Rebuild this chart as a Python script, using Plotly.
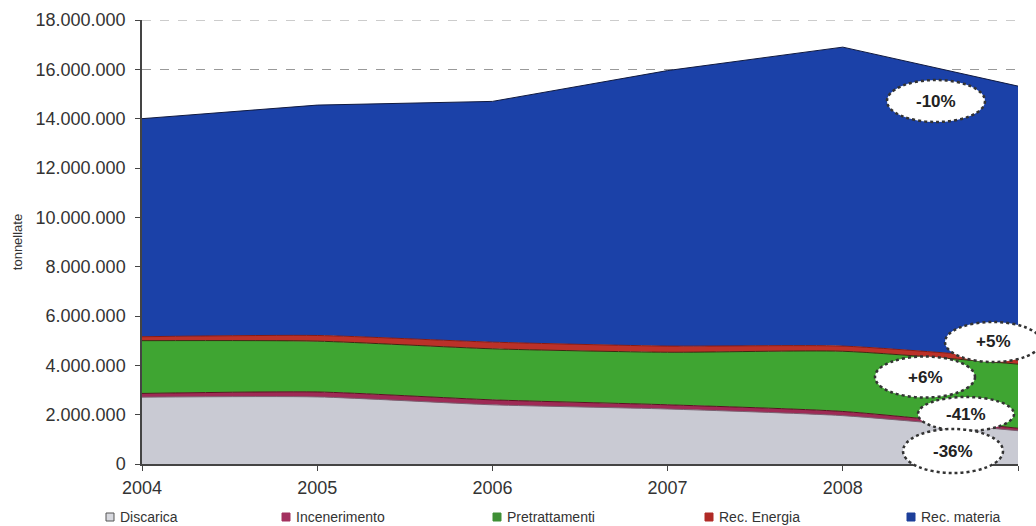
import plotly.graph_objects as go

years = [2004, 2005, 2006, 2007, 2008, 2009]
year_labels = ["2004", "2005", "2006", "2007", "2008", "2009"]

discarica = [2710000, 2720000, 2400000, 2230000, 1960000, 1350000]
incenerimento = [150000, 200000, 200000, 170000, 170000, 100000]
pretrattamenti = [2140000, 2060000, 2070000, 2130000, 2440000, 2600000]
rec_energia = [160000, 230000, 270000, 250000, 210000, 220000]
rec_materia = [8840000, 9340000, 9760000, 11170000, 12120000, 11050000]

y_ticks = [0, 2000000, 4000000, 6000000, 8000000, 10000000, 12000000, 14000000, 16000000, 18000000]

series = [
    ("Discarica", discarica, "#c9cad3", "#7a6070", "spline"),
    ("Incenerimento", incenerimento, "#9e2a55", "#5a1020", "spline"),
    ("Pretrattamenti", pretrattamenti, "#3fa532", "#3a2a10", "spline"),
    ("Rec. Energia", rec_energia, "#bb3129", "#8a1a10", "spline"),
    ("Rec. materia", rec_materia, "#1b41a8", "#101a40", "linear"),
]
legend_sq = ["#d8d9df", "#a3305f", "#3f8f35", "#b02a26", "#1d3f9a"]
legend_px = [110, 286, 497, 709, 911]

annotations_pct = [
    ("-10%", 936, 101, 98, 42),
    ("+5%", 993, 342, 96, 40),
    ("+6%", 925, 377, 100, 41),
    ("-41%", 966, 414, 96, 34),
    ("-36%", 953, 451, 100, 44),
]

FONT = "Arial, Liberation Sans, sans-serif"
L, R, T, B = 142, 18, 20, 62
W, H = 1036, 526
PW, PH = W - L - R, H - T - B


def px(xp):
    return (xp - L) / PW


def py(yp):
    return (H - B - yp) / PH


fig = go.Figure()
for name, vals, fillc, linec, shape in series:
    fig.add_trace(go.Scatter(
        x=years, y=vals, name=name, stackgroup="one", mode="lines",
        line=dict(color=linec, width=1, shape=shape, smoothing=0.6),
        fillcolor=fillc, showlegend=False, hoverinfo="skip",
    ))

# top gridline (plotly drops the one at the range edge)
shapes = [dict(type="line", xref="paper", yref="y", x0=0, x1=1,
               y0=y_ticks[-1], y1=y_ticks[-1], layer="below",
               line=dict(color="#999", width=1, dash="dash"))]
anns = []
for txt, cx, cy, w, h in annotations_pct:
    shapes.append(dict(
        type="circle", xref="paper", yref="paper",
        x0=px(cx - w / 2), x1=px(cx + w / 2),
        y0=py(cy + h / 2), y1=py(cy - h / 2),
        fillcolor="white", line=dict(color="#333", width=2.5, dash="dot"),
        layer="above",
    ))
    anns.append(dict(
        text="<b>" + txt + "</b>", xref="paper", yref="paper", x=px(cx), y=py(cy),
        showarrow=False, font=dict(family=FONT, size=17, color="#222"),
        xanchor="center", yanchor="middle",
    ))

# legend drawn as squares + labels
LEG_Y = 517
for (name, _, _, _, _), sq, lx in zip(series, legend_sq, legend_px):
    shapes.append(dict(
        type="rect", xref="paper", yref="paper",
        x0=px(lx - 4), x1=px(lx + 4), y0=py(LEG_Y + 4), y1=py(LEG_Y - 4),
        fillcolor=sq, line=dict(color="#555" if name == "Discarica" else sq, width=1),
        layer="above",
    ))
    anns.append(dict(
        text=name, xref="paper", yref="paper", x=px(lx + 8), y=py(LEG_Y),
        showarrow=False, font=dict(family=FONT, size=14, color="#333"),
        xanchor="left", yanchor="middle",
    ))

fig.update_layout(
    width=W, height=H,
    margin=dict(l=L, r=R, t=T, b=B),
    paper_bgcolor="white", plot_bgcolor="white",
    separators=",.",
    font=dict(family=FONT, color="#222"),
    shapes=shapes, annotations=anns,
    showlegend=False,
    xaxis=dict(range=[2004, 2009], tickvals=years, ticktext=year_labels,
               showline=True, linecolor="#444", linewidth=1.5, ticks="outside",
               ticklen=5, tickcolor="#444", showgrid=False, zeroline=False,
               ticklabelstandoff=2, automargin=False,
               tickfont=dict(size=18, color="#333")),
    yaxis=dict(range=[0, 18000000], tickvals=y_ticks, tickformat=",d",
               showline=True, linecolor="#444", linewidth=1.5, ticks="outside",
               ticklen=5, tickcolor="#444", showgrid=True, gridcolor="#999",
               griddash="dash", gridwidth=1, zeroline=False,
               ticklabelstandoff=6, automargin=False,
               tickfont=dict(size=18, color="#333"),
               title=dict(text="tonnellate", font=dict(size=13, color="#333"), standoff=10)),
)

fig.write_html("out.html")
